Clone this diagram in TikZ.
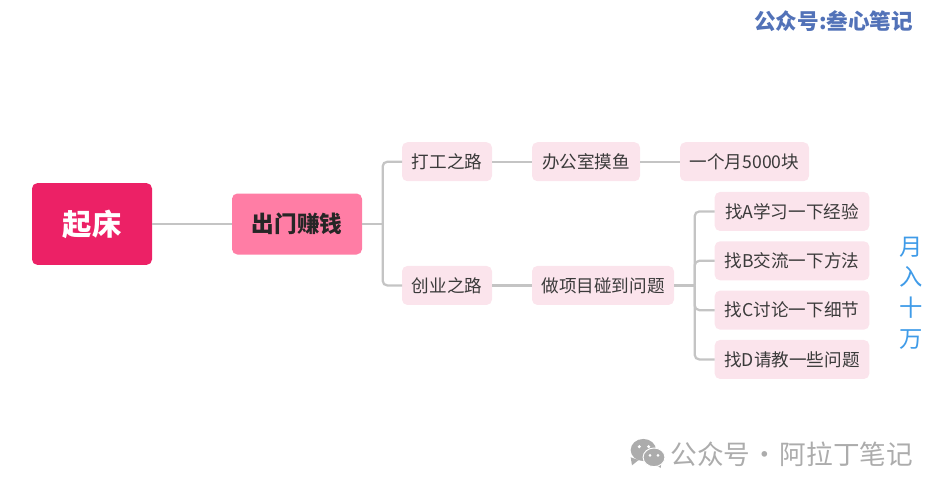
\documentclass[tikz,border=0pt]{standalone}
\usepackage{fontspec}
\setmainfont{Noto Sans CJK SC}
\usepackage{xcolor}
\usepackage{tikz}
\usetikzlibrary{positioning,calc}

\definecolor{rootred}{HTML}{EC2166}
\definecolor{subpink}{HTML}{FF7DA5}
\definecolor{leafpink}{HTML}{FBE4EC}
\definecolor{connline}{HTML}{C4C4C4}
\definecolor{inktext}{HTML}{3A3A3A}
\definecolor{incomeblue}{HTML}{3F9BE8}
\definecolor{markblue}{HTML}{5272B8}
\definecolor{markgray}{HTML}{ACACAC}

\begin{document}
\begin{tikzpicture}[
  rootbox/.style={rectangle, rounded corners=4pt, fill=rootred, text=white,
                  minimum width=90pt, minimum height=61.3pt, inner sep=0pt, outer sep=0pt,
                  font=\fontsize{22}{26}\selectfont\bfseries},
  subbox/.style={rectangle, rounded corners=4pt, fill=subpink, text=black!85,
                 minimum width=97.5pt, minimum height=45.75pt, inner sep=0pt, outer sep=0pt,
                 font=\fontsize{17}{20}\selectfont\bfseries},
  leaf/.style={rectangle, rounded corners=4pt, fill=leafpink, text=inktext,
               minimum width=#1, minimum height=29.25pt, inner sep=0pt, outer sep=0pt,
               font=\fontsize{13.2}{16}\selectfont},
  conn/.style={draw=connline, line width=1.7pt},
  elbow/.style={conn, rounded corners=3.5pt},
  bubble/.style={fill=markgray, draw=white, line width=0.7pt},
  eye/.style={fill=white, circle, inner sep=0pt, minimum size=2.6pt}
]
  \useasboundingbox (0,0) rectangle (707.25pt,-369pt);

  % Main line
  \node[rootbox] (root) at (69pt,-168pt) {起床};
  \node[subbox, right=60pt of root] (sub) {出门赚钱};

  % Upper branch
  \node[leaf=67.5pt, right=30pt of sub, yshift=46.7pt] (work) {打工之路};
  \node[leaf=81pt, right=30pt of work] (office) {办公室摸鱼};
  \node[leaf=96.75pt, right=30pt of office] (salary) {一个月5000块};

  % Lower branch
  \node[leaf=67.5pt, right=30pt of sub, yshift=-46.1pt] (biz) {创业之路};
  \node[leaf=106.5pt, right=30pt of biz] (project) {做项目碰到问题};
  \node[leaf=116pt, right=30.5pt of project, yshift=55.5pt] (finda) {找A学习一下经验};
  \node[leaf=116pt, below=7.75pt of finda] (findb) {找B交流一下方法};
  \node[leaf=116pt, below=7.75pt of findb] (findc) {找C讨论一下细节};
  \node[leaf=116pt, below=7.75pt of findc] (findd) {找D请教一些问题};

  % Side note
  \node[text=incomeblue, align=center, inner sep=0pt,
        font=\fontsize{17.5}{23}\selectfont] (income) at (683.5pt,-219.75pt) {月\\入\\十\\万};

  % Connectors
  \coordinate (forkup) at ($(sub.east)+(15.5pt,0)$);
  \coordinate (forkdown) at ($(project.east)+(15.5pt,0)$);
  \draw[conn] (root) -- (sub);
  \draw[conn] (sub) -- (forkup);
  \draw[elbow] (forkup) |- (work.west);
  \draw[elbow] (forkup) |- (biz.west);
  \draw[conn] (work) -- (office);
  \draw[conn] (office) -- (salary);
  \draw[conn] (biz) -- (project);
  \draw[conn] (project) -- (forkdown);
  \draw[elbow] (forkdown) |- (finda.west);
  \draw[elbow] (forkdown) |- (findb.west);
  \draw[elbow] (forkdown) |- (findc.west);
  \draw[elbow] (forkdown) |- (findd.west);

  % Marks
  \node[text=markblue, anchor=east, inner sep=0pt,
        font=\fontsize{16.2}{18}\selectfont\bfseries] (topmark) at (685pt,-16pt) {公众号:叁心笔记};
  \node[text=markgray, anchor=east, inner sep=0pt,
        font=\fontsize{20}{22}\selectfont] (bottommark) at (685pt,-340.5pt) {公众号\hspace{-3.5pt} · \hspace{-3.5pt}阿拉丁笔记};

  % Chat icon
  \fill[markgray] (473pt,-343pt) -- (474pt,-349pt) -- (479pt,-345pt) -- cycle;
  \draw[bubble, draw=none] (482.5pt,-337.5pt) ellipse (9.5pt and 8.3pt);
  \fill[markgray] (496pt,-347pt) -- (495.5pt,-351pt) -- (491pt,-348pt) -- cycle;
  \draw[bubble] (490.5pt,-343pt) ellipse (8.2pt and 7pt);
  \node[eye] (eyea) at (479.5pt,-335pt) {};
  \node[eye] (eyeb) at (486.5pt,-335pt) {};
  \node[eye, minimum size=2.2pt] (eyec) at (487.5pt,-341.5pt) {};
  \node[eye, minimum size=2.2pt] (eyed) at (493.5pt,-341.5pt) {};
\end{tikzpicture}
\end{document}
